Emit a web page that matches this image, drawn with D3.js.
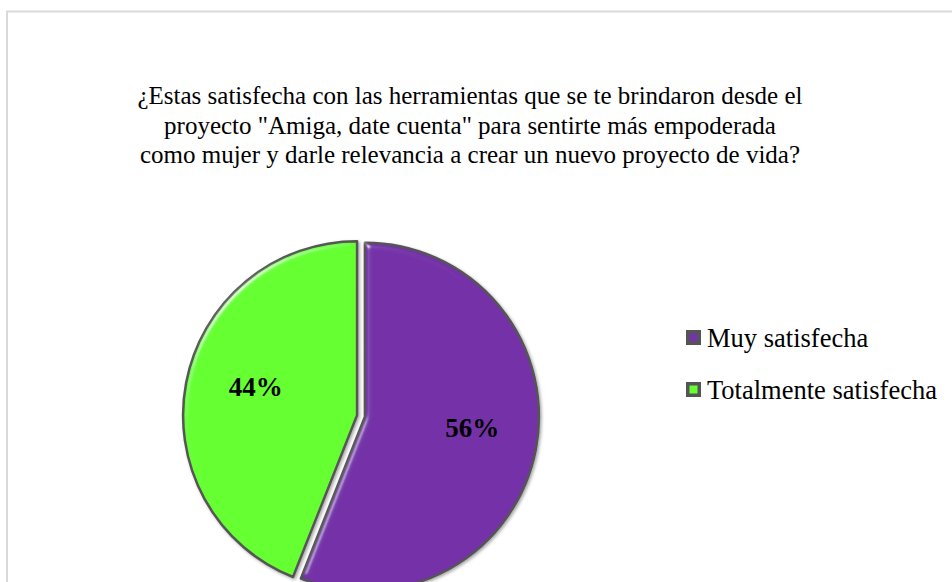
<!DOCTYPE html>
<html>
<head>
<meta charset="utf-8">
<script src="https://cdn.jsdelivr.net/npm/d3@7"></script>
<style>
	html, body { margin: 0; padding: 0; background: #fff; }
	body { width: 952px; height: 582px; overflow: hidden; }
</style>
</head>
<body>
<div id="chart"></div>
<script>
//data
const categories = ['Muy satisfecha', 'Totalmente satisfecha'];
const values = [56, 44];
const colors = ['#7433A8', '#66FF33'];
const titleLines = [
	'¿Estas satisfecha con las herramientas que se te brindaron desde el',
	'proyecto "Amiga, date cuenta" para sentirte más empoderada',
	'como mujer y darle relevancia a crear un nuevo proyecto de vida?',
];

const rows = categories.map((c, i) => ({ name: c, value: values[i], color: colors[i] }));

render();

function render() {
	let props = {
		width: 952,
		height: 582,
		cx: 361,
		cy: 416,
		radius: 174,
		explode: 4,
		fontFamily: 'Liberation Serif',
	};
	createVisualization(d3.select('#chart'), props);
}

function createVisualization(container, props) {
	let { width, height, cx, cy, radius, explode, fontFamily } = props;

	const svg = container
		.append('svg')
		.attr('width', width)
		.attr('height', height);

	//filters
	const defs = svg.append('defs');
	const bevel = defs.append('filter')
		.attr('id', 'bevel')
		.attr('x', '-10%').attr('y', '-10%')
		.attr('width', '120%').attr('height', '120%');
	bevel.append('feGaussianBlur')
		.attr('in', 'SourceAlpha')
		.attr('stdDeviation', 3)
		.attr('result', 'blur');
	const spec = bevel.append('feSpecularLighting')
		.attr('in', 'blur')
		.attr('surfaceScale', 4)
		.attr('specularConstant', 0.6)
		.attr('specularExponent', 60)
		.attr('lighting-color', '#ffffff')
		.attr('result', 'spec');
	spec.append('feDistantLight').attr('azimuth', 225).attr('elevation', 40);
	bevel.append('feComposite')
		.attr('in', 'spec').attr('in2', 'SourceAlpha')
		.attr('operator', 'in').attr('result', 'specIn');
	bevel.append('feComposite')
		.attr('in', 'SourceGraphic').attr('in2', 'specIn')
		.attr('operator', 'arithmetic')
		.attr('k1', 0).attr('k2', 1).attr('k3', 1).attr('k4', 0)
		.attr('result', 'lit');
	bevel.append('feDropShadow')
		.attr('in', 'lit')
		.attr('dx', 1.5).attr('dy', 1.5)
		.attr('stdDeviation', 1.5)
		.attr('flood-color', '#000')
		.attr('flood-opacity', 0.35);

	//frame
	svg.append('rect')
		.attr('x', 7)
		.attr('y', 11.5)
		.attr('width', width + 10)
		.attr('height', height + 10)
		.attr('fill', '#fff')
		.attr('stroke', '#d9d9d9')
		.attr('stroke-width', 2);

	//title
	svg.selectAll('.title-line')
		.data(titleLines)
		.join('text')
		.attr('class', 'title-line')
		.attr('x', 470)
		.attr('y', (d, i) => 104 + i * 29.5)
		.attr('text-anchor', 'middle')
		.attr('font-family', fontFamily)
		.attr('font-size', 25)
		.attr('fill', '#000')
		.text((d) => d);

	//pie
	const pie = d3.pie().sort(null).value((d) => d.value);
	const arc = d3.arc().innerRadius(0).outerRadius(radius);
	const labelArc = d3.arc().innerRadius(radius * 0.61).outerRadius(radius * 0.61);
	const arcs = pie(rows);

	const pieGroup = svg.append('g').attr('transform', translation(cx, cy));

	const slices = pieGroup.selectAll('.slice')
		.data(arcs)
		.join('g')
		.attr('class', 'slice')
		.attr('transform', (d) => {
			let a = (d.startAngle + d.endAngle) / 2;
			return translation(Math.sin(a) * explode, -Math.cos(a) * explode);
		});

	slices.append('path')
		.attr('d', arc)
		.attr('fill', (d) => d.data.color)
		.attr('stroke', '#555555')
		.attr('stroke-width', 2.5)
		.attr('stroke-linejoin', 'round')
		.attr('filter', 'url(#bevel)');

	slices.append('text')
		.attr('transform', (d) => {
			let [x, y] = labelArc.centroid(d);
			return translation(x + 3, y - 9);
		})
		.attr('text-anchor', 'middle')
		.attr('dy', '0.35em')
		.attr('font-family', fontFamily)
		.attr('font-size', 27)
		.attr('font-weight', 'bold')
		.attr('fill', '#000')
		.text((d) => d.data.value + '%');

	//legend
	const legend = svg.append('g').attr('transform', translation(686, 330));
	const items = legend.selectAll('.item')
		.data(rows)
		.join('g')
		.attr('class', 'item')
		.attr('transform', (d, i) => translation(0, i * 52));

	items.append('rect')
		.attr('width', 15)
		.attr('height', 15)
		.attr('fill', '#555');
	items.append('rect')
		.attr('x', 3.5)
		.attr('y', 3.5)
		.attr('width', 8)
		.attr('height', 8)
		.attr('fill', (d) => d.color);

	items.append('text')
		.attr('x', 21)
		.attr('y', 7.5)
		.attr('dy', '0.35em')
		.attr('font-family', fontFamily)
		.attr('font-size', 26.5)
		.attr('fill', '#000')
		.text((d) => d.name);
}

//utils
function translation(x, y) {
	return `translate(${x}, ${y})`;
}
</script>
</body>
</html>
